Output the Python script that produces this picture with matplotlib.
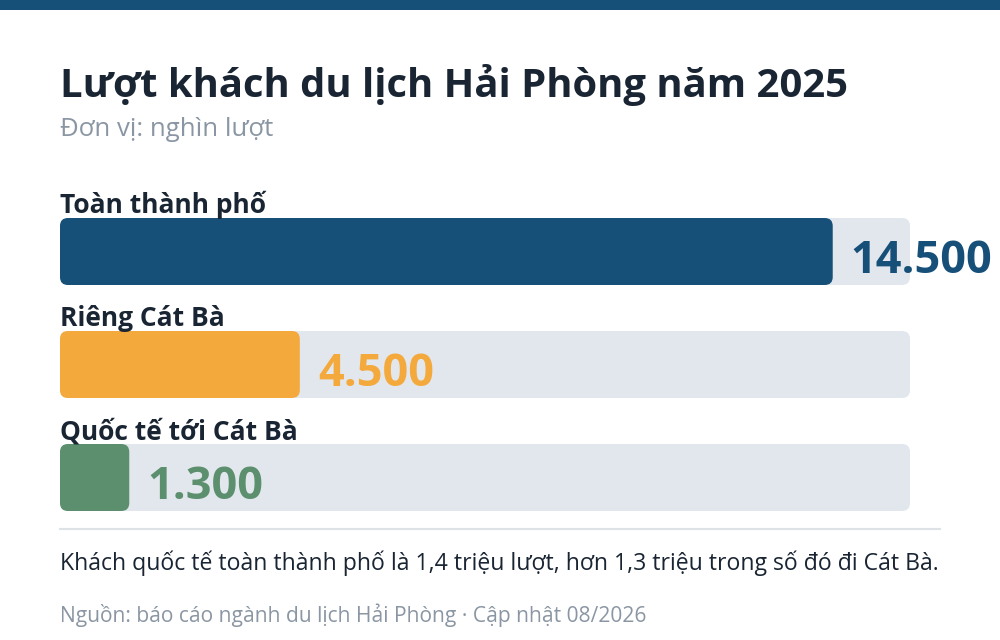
import matplotlib
matplotlib.use("Agg")
from matplotlib import pyplot as plt
from matplotlib.patches import FancyBboxPatch, Rectangle

plt.rcParams['font.family'] = ['Open Sans', 'DejaVu Sans']

# dữ liệu
categories = ['Toàn thành phố', 'Riêng Cát Bà', 'Quốc tế tới Cát Bà']
values = [14500, 4500, 1300]
value_labels = ['14.500', '4.500', '1.300']
colors = ['#164f78', '#f4a93c', '#5b8f6d']

title = 'Lượt khách du lịch Hải Phòng năm 2025'
subtitle = 'Đơn vị: nghìn lượt'
note = 'Khách quốc tế toàn thành phố là 1,4 triệu lượt, hơn 1,3 triệu trong số đó đi Cát Bà.'
source = 'Nguồn: báo cáo ngành du lịch Hải Phòng · Cập nhật 08/2026'

W, H = 1000, 640
fig = plt.figure(figsize=(10, 6.4), dpi=100)
fig.patch.set_facecolor('white')


def fy(y):
    return 1 - y / H


# dải màu trên cùng
fig.patches.append(Rectangle((0, fy(10)), 1, 10 / H, transform=fig.transFigure,
                             facecolor='#164f78', edgecolor='none'))

fig.text(60 / W, fy(97), title, fontsize=28.8, fontweight='bold', color='#1a2533', va='baseline')
fig.text(60 / W, fy(136), subtitle, fontsize=18.5, color='#8a96a3', va='baseline')

# vùng thanh: x từ 60 đến 910 px, y từ 218 đến 511 px
vmax = max(values) * 1.1
left, right, top, bottom = 60, 910, 218, 511
ax = fig.add_axes([left / W, fy(bottom), (right - left) / W, (bottom - top) / H])
ax.set_xlim(0, vmax)
ax.set_ylim(bottom - top, 0)
ax.axis('off')

xu = vmax / (right - left)   # đơn vị x trên mỗi pixel
radius = 8 * xu
bar_h = 67
step = 113

for i, (cat, v, lab, c) in enumerate(zip(categories, values, value_labels, colors)):
    y0 = i * step
    track = FancyBboxPatch((0, y0), vmax, bar_h,
                           boxstyle=f'round,pad=0,rounding_size={radius}',
                           mutation_aspect=1 / xu, facecolor='#e1e7ed',
                           edgecolor='none', clip_on=False)
    ax.add_patch(track)
    bar = FancyBboxPatch((0, y0), v, bar_h,
                         boxstyle=f'round,pad=0,rounding_size={radius}',
                         mutation_aspect=1 / xu, facecolor=c,
                         edgecolor='none', clip_on=False)
    ax.add_patch(bar)
    ax.text(v + 18 * xu, y0 + 55, lab, fontsize=32.5, fontweight='bold',
            color=c, va='baseline', ha='left', clip_on=False)
    fig.text(60 / W, fy(top + y0 - 5), cat, fontsize=19, fontweight='bold',
             color='#1a2533', va='baseline')

# đường kẻ ngăn cách
fig.add_artist(plt.Line2D([60 / W, 940 / W], [fy(529), fy(529)],
                          transform=fig.transFigure, color='#dde2e7', linewidth=1.5))

fig.text(60 / W, fy(570), note, fontsize=16.6, color='#1a2533', va='baseline')
fig.text(60 / W, fy(622), source, fontsize=15.1, color='#8a96a3', va='baseline')

fig.savefig('out.png', dpi=100, facecolor='white')
